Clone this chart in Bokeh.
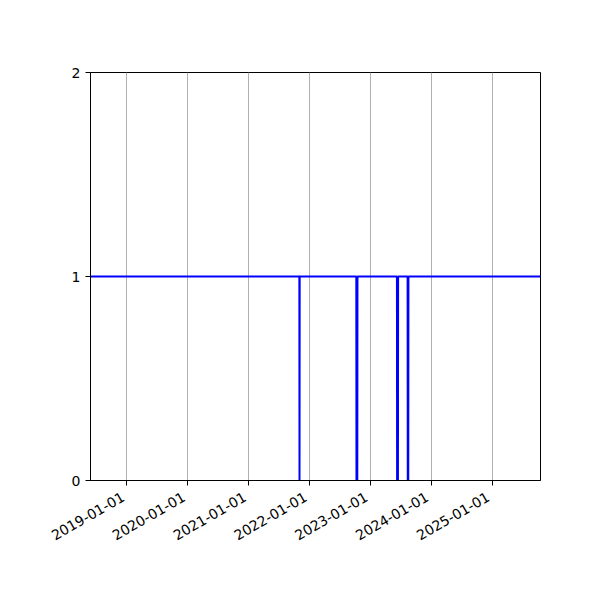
import math
import pandas as pd
from bokeh.plotting import figure
from bokeh.models import FixedTicker, Range1d, CustomJSTickFormatter
from bokeh.embed import file_html
from bokeh.resources import INLINE

# Status series (1 = up, 0 = down)
dates = ["2018-05-27",
         "2021-11-01", "2021-11-02", "2021-11-03",
         "2022-10-09", "2022-10-10", "2022-10-15", "2022-10-16",
         "2023-06-10", "2023-06-11", "2023-06-16", "2023-06-17",
         "2023-08-13", "2023-08-14", "2023-08-17", "2023-08-18",
         "2025-10-19"]
values = [1,
          1, 0, 1,
          1, 0, 0, 1,
          1, 0, 0, 1,
          1, 0, 0, 1,
          1]
x_start = "2018-05-27"
x_end = "2025-10-19"
tick_dates = ["2019-01-01", "2020-01-01", "2021-01-01", "2022-01-01",
              "2023-01-01", "2024-01-01", "2025-01-01"]
y_ticks = [0, 1, 2]

xs = pd.to_datetime(dates)
to_ms = lambda s: pd.Timestamp(s).value / 1e6

p = figure(output_backend="svg", toolbar_location=None,
           x_axis_type="datetime",
           frame_width=450, frame_height=408,
           min_border_left=90, min_border_right=44,
           min_border_top=72, min_border_bottom=104,
           x_range=Range1d(to_ms(x_start), to_ms(x_end)),
           y_range=Range1d(0, 2))

p.line(xs, values, line_color="blue", line_width=2)

font = "DejaVu Sans"
p.xaxis.ticker = FixedTicker(ticks=[to_ms(t) for t in tick_dates], minor_ticks=[])
p.xaxis.formatter = CustomJSTickFormatter(code="""
const d = new Date(tick);
const y = d.getUTCFullYear();
const m = String(d.getUTCMonth()+1).padStart(2,'0');
const dd = String(d.getUTCDate()).padStart(2,'0');
return y + '-' + m + '-' + dd + '\\u00a0';
""")
p.xaxis.major_label_orientation = math.pi / 6
p.xaxis.major_label_standoff = 8
p.yaxis.ticker = FixedTicker(ticks=y_ticks, minor_ticks=[])

for ax in (p.xaxis, p.yaxis):
    ax.major_label_text_font = font
    ax.major_label_text_font_size = "14px"
    ax.major_label_text_color = "black"
    ax.axis_line_color = "black"
    ax.major_tick_line_color = "black"
    ax.major_tick_in = 0
    ax.major_tick_out = 5
    ax.minor_tick_line_color = None

p.xgrid.grid_line_color = "#b0b0b0"
p.xgrid.grid_line_width = 1
p.ygrid.grid_line_color = None
p.outline_line_color = "black"
p.outline_line_alpha = 1
p.background_fill_color = "white"
p.border_fill_color = "white"

open("out.html", "w").write(file_html(p, INLINE))
